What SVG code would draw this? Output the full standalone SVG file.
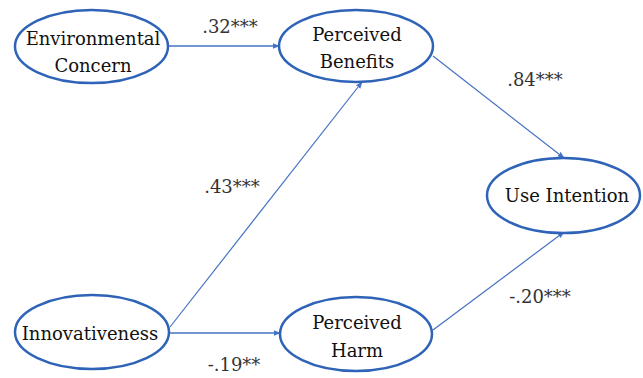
<svg xmlns="http://www.w3.org/2000/svg" width="643" height="378" viewBox="0 0 643 378">
<defs>
<marker id="ah" viewBox="0 0 10 10" refX="9" refY="5" markerWidth="7" markerHeight="7" orient="auto" markerUnits="userSpaceOnUse">
<path d="M0,1 L10,5 L0,9 z" fill="#4472C4"/>
</marker>
</defs>
<style>
.node ellipse{fill:#fff;stroke:#2E63B8;stroke-width:2.5}
.edge{stroke:#4472C4;stroke-width:1.2;fill:none;marker-end:url(#ah)}
</style>
<rect width="643" height="378" fill="#fff"/>
<g id="connectors">
<line class="edge" x1="168" y1="46" x2="279" y2="46" style="stroke-width:1.6"/>
<line class="edge" x1="170" y1="327" x2="362" y2="82"/>
<line class="edge" x1="433" y1="56" x2="564" y2="158"/>
<line class="edge" x1="170" y1="333" x2="280" y2="333" style="stroke-width:1.6"/>
<line class="edge" x1="433" y1="330" x2="564" y2="232"/>
<g font-family="'DejaVu Serif', 'Liberation Serif', serif" font-size="18" fill="#333" text-anchor="middle">
<text x="230" y="33">.32***</text>
<text x="232" y="193">.43***</text>
<text x="535" y="86">.84***</text>
<text x="540" y="303">-.20***</text>
<text x="234" y="371">-.19**</text>
</g>
</g>
<g font-family="'DejaVu Serif', 'Liberation Serif', serif" font-size="18" fill="#111" text-anchor="middle">
<g id="env" class="node">
<ellipse cx="91.5" cy="46.5" rx="76.5" ry="36.5"/>
<text x="93" y="45">Environmental</text>
<text x="93" y="72">Concern</text>
</g>
<g id="benefits" class="node">
<ellipse cx="356" cy="46" rx="77" ry="36"/>
<text x="357" y="41">Perceived</text>
<text x="357" y="68">Benefits</text>
</g>
<g id="intention" class="node">
<ellipse cx="563.5" cy="195.5" rx="76.5" ry="37.5"/>
<text x="567" y="202">Use Intention</text>
</g>
<g id="innov" class="node">
<ellipse cx="92" cy="332" rx="77" ry="37"/>
<text x="90" y="340">Innovativeness</text>
</g>
<g id="harm" class="node">
<ellipse cx="356" cy="334" rx="76" ry="37"/>
<text x="357" y="329">Perceived</text>
<text x="357" y="357">Harm</text>
</g>
</g>
</svg>
